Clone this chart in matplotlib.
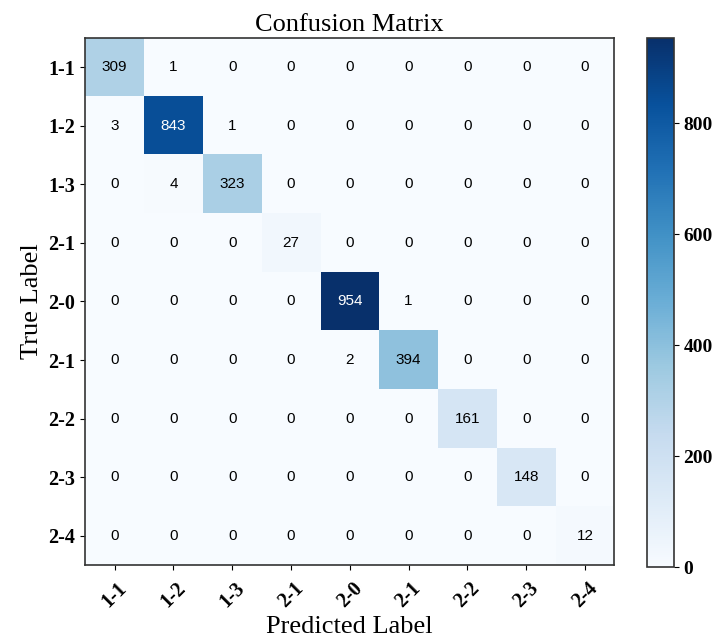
import matplotlib
matplotlib.use("Agg")
import matplotlib.pyplot as plt
import numpy as np

labels = ["1-1", "1-2", "1-3", "2-1", "2-0", "2-1", "2-2", "2-3", "2-4"]

cm = np.array([
    [309, 1, 0, 0, 0, 0, 0, 0, 0],
    [3, 843, 1, 0, 0, 0, 0, 0, 0],
    [0, 4, 323, 0, 0, 0, 0, 0, 0],
    [0, 0, 0, 27, 0, 0, 0, 0, 0],
    [0, 0, 0, 0, 954, 1, 0, 0, 0],
    [0, 0, 0, 0, 2, 394, 0, 0, 0],
    [0, 0, 0, 0, 0, 0, 161, 0, 0],
    [0, 0, 0, 0, 0, 0, 0, 148, 0],
    [0, 0, 0, 0, 0, 0, 0, 0, 12],
])

serif = "Liberation Serif"

fig = plt.figure(figsize=(7.16, 6.4), dpi=100)
ax = fig.add_axes([0.119, 0.117, 0.739, 0.824])
cax = fig.add_axes([0.904, 0.114, 0.037, 0.827])

im = ax.imshow(cm, cmap="Blues", aspect="auto", vmin=0, vmax=cm.max())
cb = fig.colorbar(im, cax=cax)
cb.set_ticks([0, 200, 400, 600, 800])
cb.outline.set_edgecolor("#333333")
cb.outline.set_linewidth(1.2)
for t in cb.ax.get_yticklabels():
    t.set_fontfamily(serif)
    t.set_fontsize(14)
    t.set_fontweight("bold")

for s in ax.spines.values():
    s.set_edgecolor("#333333")
    s.set_linewidth(1.2)

ax.set_xticks(np.arange(len(labels)))
ax.set_yticks(np.arange(len(labels)))
ax.set_xticklabels(labels, rotation=45, fontfamily=serif, fontsize=14.5, fontweight="bold")
ax.set_yticklabels(labels, fontfamily=serif, fontsize=14.5, fontweight="bold")
ax.tick_params(axis="x", pad=6)

thresh = cm.max() / 2
for i in range(cm.shape[0]):
    for j in range(cm.shape[1]):
        ax.text(j, i, str(cm[i, j]), ha="center", va="center", fontsize=11,
                fontfamily="Liberation Sans",
                color="white" if cm[i, j] > thresh else "black")

ax.set_title("Confusion Matrix", fontfamily=serif, fontsize=19, pad=5)
ax.set_xlabel("Predicted Label", fontfamily=serif, fontsize=19, labelpad=3)
ax.set_ylabel("True Label", fontfamily=serif, fontsize=19)

fig.savefig("out.png", dpi=100)
